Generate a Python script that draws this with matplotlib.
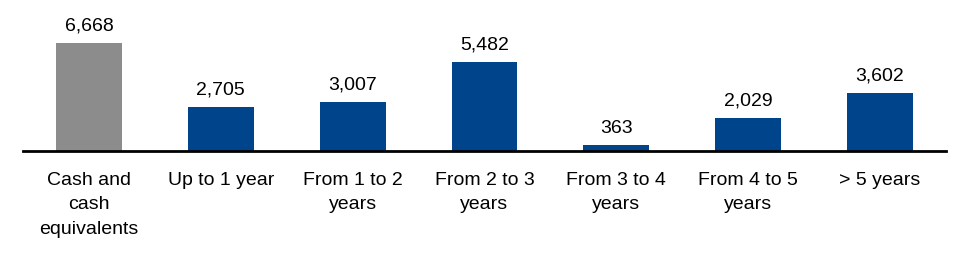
import matplotlib.pyplot as plt

categories = ['Cash and\ncash\nequivalents', 'Up to 1 year', 'From 1 to 2\nyears',
              'From 2 to 3\nyears', 'From 3 to 4\nyears', 'From 4 to 5\nyears', '> 5 years']
values = [6668, 2705, 3007, 5482, 363, 2029, 3602]
colors = ['#8c8c8c'] + ['#00458c'] * 6

plt.rcParams['font.family'] = ['Liberation Sans', 'DejaVu Sans']

fig = plt.figure(figsize=(9.69, 2.54), dpi=100)
ax = fig.add_axes([23 / 969, (254 - 151) / 254, (946 - 23) / 969, 151 / 254])

x = range(len(values))
bars = ax.bar(x, values, width=0.5, color=colors)
for xi, v in zip(x, values):
    ax.annotate(f'{v:,}', (xi, v), xytext=(0, 6), textcoords='offset points',
                ha='center', va='bottom', fontsize=14)

ax.set_xlim(-0.5, len(values) - 0.5)
ax.set_ylim(0, 6668 * 151 / 108)
for s in ['top', 'right', 'left']:
    ax.spines[s].set_visible(False)
ax.spines['bottom'].set_linewidth(2)
ax.set_yticks([])
ax.set_xticks(list(x))
ax.set_xticklabels(categories, fontsize=14, linespacing=1.57)
ax.tick_params(axis='x', length=0, pad=15)

fig.savefig('out.png', dpi=100)
